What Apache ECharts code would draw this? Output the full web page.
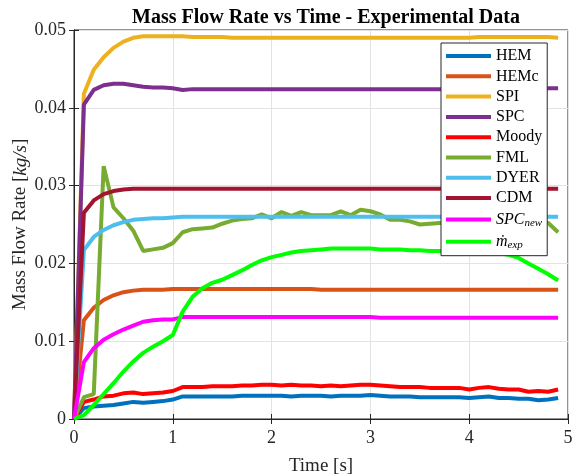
<!DOCTYPE html>
<html>
<head>
<meta charset="utf-8">
<script src="https://cdn.jsdelivr.net/npm/echarts@6/dist/echarts.min.js"></script>
<style>html,body{margin:0;padding:0;background:#fff;}#c{width:574px;height:476px;}</style>
</head>
<body>
<div id="c"></div>
<script>
const time = [0,0.1,0.2,0.3,0.4,0.5,0.6,0.7,0.8,0.9,1.0,1.1,1.2,1.3,1.4,1.5,1.6,1.7,1.8,1.9,2.0,2.1,2.2,2.3,2.4,2.5,2.6,2.7,2.8,2.9,3.0,3.1,3.2,3.3,3.4,3.5,3.6,3.7,3.8,3.9,4.0,4.1,4.2,4.3,4.4,4.5,4.6,4.7,4.8,4.9];
const HEM = [0,0.0014,0.0016,0.0017,0.0018,0.0020,0.0022,0.0021,0.0022,0.0023,0.0025,0.0029,0.0029,0.0029,0.0029,0.0029,0.0029,0.0030,0.0030,0.0030,0.0030,0.0030,0.0029,0.0030,0.0030,0.0030,0.0029,0.0030,0.0030,0.0030,0.0031,0.0030,0.0029,0.0029,0.0029,0.0028,0.0028,0.0028,0.0028,0.0028,0.0027,0.0028,0.0029,0.0027,0.0027,0.0026,0.0026,0.0024,0.0025,0.0027];
const HEMc = [0,0.0127,0.0143,0.0153,0.0159,0.0163,0.0165,0.0166,0.0166,0.0166,0.0167,0.0167,0.0167,0.0167,0.0167,0.0167,0.0167,0.0167,0.0167,0.0167,0.0167,0.0167,0.0167,0.0167,0.0167,0.0166,0.0166,0.0166,0.0166,0.0166,0.0166,0.0166,0.0166,0.0166,0.0166,0.0166,0.0166,0.0166,0.0166,0.0166,0.0166,0.0166,0.0166,0.0166,0.0166,0.0166,0.0166,0.0166,0.0166,0.0166];
const SPI = [0,0.0418,0.0449,0.0465,0.0477,0.0485,0.0490,0.0492,0.0492,0.0492,0.0492,0.0492,0.0491,0.0491,0.0491,0.0491,0.0490,0.0490,0.0490,0.0490,0.0490,0.0490,0.0490,0.0490,0.0490,0.0490,0.0490,0.0490,0.0490,0.0490,0.0490,0.0490,0.0490,0.0490,0.0490,0.0490,0.0490,0.0490,0.0490,0.0490,0.0490,0.0491,0.0491,0.0491,0.0491,0.0491,0.0491,0.0491,0.0491,0.0490];
const SPC = [0,0.0404,0.0423,0.0429,0.0431,0.0431,0.0429,0.0427,0.0426,0.0426,0.0425,0.0423,0.0424,0.0424,0.0424,0.0424,0.0424,0.0424,0.0424,0.0424,0.0424,0.0424,0.0424,0.0424,0.0424,0.0424,0.0424,0.0424,0.0424,0.0424,0.0424,0.0424,0.0424,0.0424,0.0424,0.0424,0.0424,0.0424,0.0424,0.0424,0.0425,0.0425,0.0425,0.0425,0.0425,0.0425,0.0425,0.0425,0.0425,0.0425];
const Moody = [0,0.0022,0.0025,0.0029,0.0030,0.0033,0.0034,0.0032,0.0033,0.0034,0.0036,0.0041,0.0041,0.0041,0.0042,0.0042,0.0042,0.0043,0.0043,0.0044,0.0044,0.0043,0.0044,0.0043,0.0043,0.0042,0.0043,0.0042,0.0043,0.0044,0.0044,0.0043,0.0042,0.0041,0.0041,0.0041,0.0040,0.0040,0.0040,0.0040,0.0038,0.0040,0.0041,0.0039,0.0038,0.0038,0.0035,0.0036,0.0035,0.0038];
const FML = [0,0.0028,0.0032,0.0325,0.0272,0.0258,0.0242,0.0216,0.0218,0.0220,0.0226,0.0240,0.0244,0.0245,0.0246,0.0251,0.0255,0.0257,0.0258,0.0263,0.0258,0.0266,0.0261,0.0266,0.0262,0.0262,0.0262,0.0267,0.0262,0.0269,0.0267,0.0263,0.0256,0.0256,0.0254,0.0250,0.0251,0.0252,0.0252,0.0253,0.0253,0.0253,0.0253,0.0253,0.0253,0.0253,0.0253,0.0253,0.0252,0.0240];
const DYER = [0,0.0217,0.0234,0.0243,0.0249,0.0253,0.0256,0.0257,0.0258,0.0258,0.0259,0.0260,0.0260,0.0260,0.0260,0.0260,0.0260,0.0260,0.0260,0.0260,0.0260,0.0260,0.0260,0.0260,0.0260,0.0260,0.0260,0.0260,0.0260,0.0260,0.0260,0.0260,0.0260,0.0260,0.0260,0.0260,0.0260,0.0260,0.0260,0.0260,0.0260,0.0260,0.0260,0.0260,0.0260,0.0260,0.0260,0.0260,0.0260,0.0260];
const CDM = [0,0.0265,0.0281,0.0289,0.0293,0.0295,0.0296,0.0296,0.0296,0.0296,0.0296,0.0296,0.0296,0.0296,0.0296,0.0296,0.0296,0.0296,0.0296,0.0296,0.0296,0.0296,0.0296,0.0296,0.0296,0.0296,0.0296,0.0296,0.0296,0.0296,0.0296,0.0296,0.0296,0.0296,0.0296,0.0296,0.0296,0.0296,0.0296,0.0296,0.0296,0.0296,0.0296,0.0296,0.0296,0.0296,0.0296,0.0296,0.0296,0.0296];
const SPCnew = [0,0.0073,0.0091,0.0102,0.0109,0.0115,0.0120,0.0125,0.0127,0.0128,0.0128,0.0131,0.0131,0.0131,0.0131,0.0131,0.0131,0.0131,0.0131,0.0131,0.0131,0.0131,0.0131,0.0131,0.0131,0.0131,0.0131,0.0131,0.0131,0.0131,0.0131,0.0130,0.0130,0.0130,0.0130,0.0130,0.0130,0.0130,0.0130,0.0130,0.0130,0.0130,0.0130,0.0130,0.0130,0.0130,0.0130,0.0130,0.0130,0.0130];
const mexp = [0,0.0005,0.0018,0.0032,0.0046,0.0061,0.0074,0.0085,0.0093,0.0100,0.0108,0.0138,0.0157,0.0168,0.0175,0.0179,0.0185,0.0191,0.0198,0.0204,0.0208,0.0211,0.0214,0.0216,0.0217,0.0218,0.0219,0.0219,0.0219,0.0219,0.0219,0.0218,0.0218,0.0218,0.0217,0.0217,0.0216,0.0216,0.0215,0.0215,0.0214,0.0214,0.0213,0.0213,0.0211,0.0207,0.0200,0.0193,0.0186,0.0178];

const seriesNames = ['HEM','HEMc','SPI','SPC','Moody','FML','DYER','CDM','SPC_new','m_exp'];
const seriesData = [HEM,HEMc,SPI,SPC,Moody,FML,DYER,CDM,SPCnew,mexp];
const colors = ['#0072BD','#D95319','#EDB120','#7E2F8E','#FF0000','#77AC30','#4DBEEE','#A2142F','#FF00FF','#00FF00'];

const FONT = 'Liberation Serif';
const AX = '#262626';

const chart = echarts.init(document.getElementById('c'), null, {renderer:'canvas'});
const series = seriesNames.map((n, k) => ({
  name: n,
  type: 'line',
  data: time.map((t, i) => [t, seriesData[k][i]]),
  showSymbol: false,
  symbol: 'none',
  lineStyle: {width: 4, color: colors[k]},
  itemStyle: {color: colors[k]},
  z: 2,
  zlevel: 0,
  animation: false
}));

const xCommon = {type:'value', min:0, max:5, interval:1};
const yCommon = {type:'value', min:0, max:0.05, interval:0.01};

chart.setOption({
  animation: false,
  title: {
    text: 'Mass Flow Rate vs Time - Experimental Data',
    left: 321, top: 3, textAlign: 'center',
    textStyle: {fontFamily: FONT, fontWeight: 'bold', fontSize: 20, color: '#000'}
  },
  grid: {left: 74, right: 6, top: 30, bottom: 57, containLabel: false, outerBoundsMode: 'none',
         show: true, borderColor: AX, borderWidth: 1, backgroundColor: '#fff'},
  legend: {
    orient: 'vertical', left: 441, top: 43,
    z: 50, zlevel: 1,
    padding: [5, 5, 5, 5],
    backgroundColor: '#fff', borderColor: AX, borderWidth: 1,
    icon: 'rect', itemWidth: 45, itemHeight: 4, itemGap: 4.3,
    data: seriesNames,
    textStyle: {
      fontFamily: FONT, fontSize: 16, color: '#000', lineHeight: 16,
      rich: {
        i: {fontFamily: FONT, fontStyle: 'italic', fontSize: 16, color: '#000', lineHeight: 16},
        s: {fontFamily: FONT, fontStyle: 'italic', fontSize: 11, color: '#000', lineHeight: 11, padding: [7, 0, 0, 0]}
      }
    },
    formatter: function (name) {
      if (name === 'SPC_new') return '{i|SPC}{s|new}';
      if (name === 'm_exp') return '{i|\u1E41}{s|exp}';
      return name;
    }
  },
  xAxis: [
    Object.assign({}, xCommon, {
      position: 'bottom',
      name: 'Time [s]', nameLocation: 'middle', nameGap: 38,
      nameTextStyle: {fontFamily: FONT, fontSize: 19, color: AX},
      axisLine: {show: true, lineStyle: {color: AX, width: 1}},
      axisTick: {show: true, inside: true, length: 5, lineStyle: {color: AX}},
      axisLabel: {fontFamily: FONT, fontSize: 18, color: AX, margin: 10},
      splitLine: {show: true, lineStyle: {color: '#e3e3e3', width: 1}}
    }),
    Object.assign({}, xCommon, {
      position: 'top',
      axisLine: {show: true, lineStyle: {color: AX, width: 1}},
      axisTick: {show: true, inside: true, length: 5, lineStyle: {color: AX}},
      axisLabel: {show: false},
      splitLine: {show: false}
    })
  ],
  yAxis: [
    Object.assign({}, yCommon, {
      position: 'left',
      name: 'Mass Flow Rate [{i|kg/s}]', nameLocation: 'middle', nameGap: 44,
      nameMoveOverlap: false,
      nameTextStyle: {fontFamily: FONT, fontSize: 19, color: AX,
        rich: {i: {fontFamily: FONT, fontStyle: 'italic', fontSize: 19, color: AX}}},
      axisLine: {show: true, lineStyle: {color: AX, width: 1}},
      axisTick: {show: true, inside: true, length: 5, lineStyle: {color: AX}},
      axisLabel: {fontFamily: FONT, fontSize: 18, color: AX, margin: 8},
      splitLine: {show: true, lineStyle: {color: '#e3e3e3', width: 1}}
    }),
    Object.assign({}, yCommon, {
      position: 'right',
      axisLine: {show: true, lineStyle: {color: AX, width: 1}},
      axisTick: {show: true, inside: true, length: 5, lineStyle: {color: AX}},
      axisLabel: {show: false},
      splitLine: {show: false}
    })
  ],
  series: series
});
</script>
</body>
</html>
